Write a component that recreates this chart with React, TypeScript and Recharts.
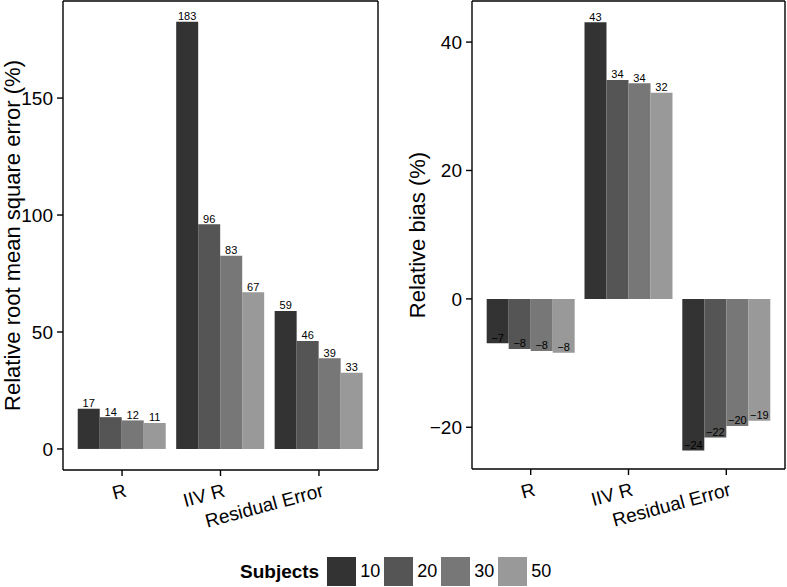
import React from 'react';
import { BarChart, Bar, XAxis, YAxis, LabelList } from 'recharts';

const categories = ['R', 'IIV R', 'Residual Error'];
const subjects = ['10', '20', '30', '50'];
const greys = ['#333333', '#555555', '#777777', '#999999'];

// relative root mean square error (%), per category, one array per number of subjects
const rmse10 = [17.2, 182.6, 59.0];
const rmse20 = [13.6, 96.1, 46.2];
const rmse30 = [12.2, 82.6, 38.8];
const rmse50 = [11.1, 67.0, 32.6];

// relative bias (%)
const bias10 = [-6.9, 43.1, -23.6];
const bias20 = [-7.8, 34.1, -21.6];
const bias30 = [-8.1, 33.6, -19.8];
const bias50 = [-8.4, 32.1, -19.0];

const rmseTicks = [0, 50, 100, 150];
const biasTicks = [-20, 0, 20, 40];

const FONT = '"Liberation Sans", Arial, Helvetica, sans-serif';

const buildRows = (series: number[][]) =>
  categories.map((cat, i) => {
    const row: Record<string, string | number> = { cat };
    subjects.forEach((s, j) => {
      row['s' + s] = series[j][i];
    });
    return row;
  });

const rmseRows = buildRows([rmse10, rmse20, rmse30, rmse50]);
const biasRows = buildRows([bias10, bias20, bias30, bias50]);

const fmt = (v: number) => {
  const r = Math.round(v);
  return r < 0 ? '\u2212' + Math.abs(r) : String(r);
};

const BarValue = (props: any) => {
  const vb = props.viewBox ?? props;
  const { x, y, width, height } = vb;
  const value = Number(props.value);
  const end = value >= 0 ? Math.min(y, y + height) : Math.max(y, y + height);
  return (
    <text x={x + width / 2} y={end - 1.5} textAnchor="middle" fontSize={11} fill="#000">
      {fmt(value)}
    </text>
  );
};

const CatTick = (props: any) => {
  const { x, y, payload } = props;
  return (
    <g transform={`translate(${x + 2},${y + 7}) rotate(-15)`}>
      <text textAnchor="end" dy="0.72em" fontSize={19} fill="#000">
        {payload.value}
      </text>
    </g>
  );
};

interface PanelProps {
  rows: Record<string, string | number>[];
  domain: [number, number];
  ticks: number[];
  title: string;
  width: number;
  yAxisWidth: number;
  titleX: number;
  xAxisHeight: number;
}

function Panel({ rows, domain, ticks, title, width, yAxisWidth, titleX, xAxisHeight }: PanelProps) {
  const line = { stroke: '#000', strokeWidth: 1.4 };
  return (
    <BarChart
      width={width}
      height={550}
      data={rows}
      margin={{ top: 0, right: 1, left: 0, bottom: 0 }}
      barCategoryGap="5%"
      barGap={0}
    >
      <XAxis
        dataKey="cat"
        height={xAxisHeight}
        padding={{ left: 9.8, right: 9.8 }}
        axisLine={line}
        tickLine={line}
        tickSize={6}
        tickMargin={0}
        tick={<CatTick />}
        interval={0}
      />
      <XAxis
        xAxisId="top"
        dataKey="cat"
        orientation="top"
        height={1}
        tick={false}
        tickLine={false}
        axisLine={line}
      />
      <YAxis
        type="number"
        domain={domain}
        ticks={ticks}
        allowDataOverflow
        width={yAxisWidth}
        axisLine={line}
        tickLine={line}
        tickSize={6}
        tickMargin={4}
        tick={{ fontSize: 19, fill: '#000' }}
        tickFormatter={(v: number) => fmt(v)}
        label={{
          position: 'insideLeft',
          content: (p: any) => {
            const vb = p.viewBox;
            const cy = vb.y + vb.height / 2;
            return (
              <text
                x={vb.x + titleX}
                y={cy}
                transform={`rotate(-90, ${vb.x + titleX}, ${cy})`}
                textAnchor="middle"
                fontSize={22}
                fill="#000"
              >
                {title}
              </text>
            );
          },
        }}
      />
      <YAxis
        yAxisId="right"
        orientation="right"
        type="number"
        domain={domain}
        allowDataOverflow
        width={1}
        tick={false}
        tickLine={false}
        axisLine={line}
      />
      {subjects.map((s, i) => (
        <Bar key={s} dataKey={'s' + s} name={s} fill={greys[i]} isAnimationActive={false}>
          <LabelList dataKey={'s' + s} content={<BarValue />} />
        </Bar>
      ))}
    </BarChart>
  );
}

export default function App() {
  return (
    <div style={{ position: 'relative', width: 787, height: 587, background: '#fff', fontFamily: FONT }}>
      <style>{`body{margin:0}`}</style>
      <div style={{ position: 'absolute', left: 0, top: 0 }}>
        <Panel
          rows={rmseRows}
          domain={[-9, 191.5]}
          ticks={rmseTicks}
          title="Relative root mean square error (%)"
          width={380}
          yAxisWidth={63}
          titleX={20}
          xAxisHeight={80}
        />
      </div>
      <div style={{ position: 'absolute', left: 380, top: 0 }}>
        <Panel
          rows={biasRows}
          domain={[-26.5, 46.4]}
          ticks={biasTicks}
          title="Relative bias (%)"
          width={407}
          yAxisWidth={92}
          titleX={45}
          xAxisHeight={81}
        />
      </div>
      <div
        style={{
          position: 'absolute',
          left: 240,
          top: 557,
          height: 29,
          display: 'flex',
          alignItems: 'center',
          color: '#000',
        }}
      >
        <span style={{ fontWeight: 'bold', fontSize: 19, marginRight: 8 }}>Subjects</span>
        {subjects.map((s, i) => (
          <React.Fragment key={s}>
            <span style={{ display: 'inline-block', width: 29, height: 29, background: greys[i] }} />
            <span style={{ fontSize: 18, margin: '0 4px' }}>{s}</span>
          </React.Fragment>
        ))}
      </div>
    </div>
  );
}
